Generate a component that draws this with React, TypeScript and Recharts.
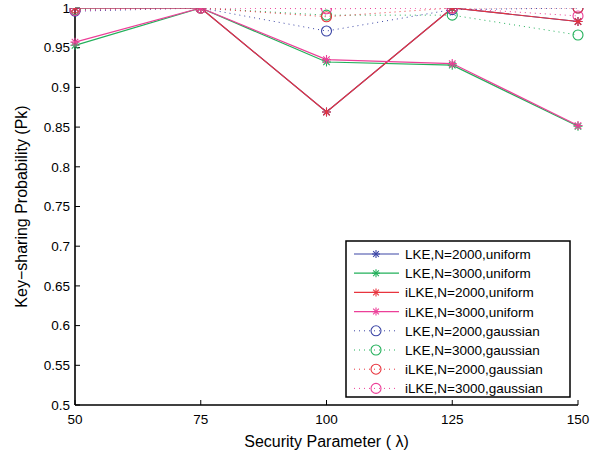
import React from 'react';
import { LineChart, Line, XAxis, YAxis } from 'recharts';

const lambdas = [50, 75, 100, 125, 150];
const yTicks = [0.5, 0.55, 0.6, 0.65, 0.7, 0.75, 0.8, 0.85, 0.9, 0.95, 1];

const lke2000Uniform = [1, 1, 0.869, 1, 0.983];
const lke3000Uniform = [0.953, 1, 0.932, 0.928, 0.851];
const ilke2000Uniform = [1, 1, 0.869, 1, 0.983];
const ilke3000Uniform = [0.957, 1, 0.935, 0.93, 0.852];
const lke2000Gauss = [0.996, 1, 0.971, 0.998, 1];
const lke3000Gauss = [0.998, 1, 0.991, 0.991, 0.966];
const ilke2000Gauss = [1, 1, 0.989, 1, 1];
const ilke3000Gauss = [0.997, 1, 0.999, 1, 0.99];

const BLUE = '#3c46a6';
const GREEN = '#22b05a';
const RED = '#e8343e';
const MAGENTA = '#ec3f98';

const seriesDefs = [
  { key: 'lke2000u', name: 'LKE,N=2000,uniform', color: BLUE, values: lke2000Uniform, kind: 'star' },
  { key: 'lke3000u', name: 'LKE,N=3000,uniform', color: GREEN, values: lke3000Uniform, kind: 'star' },
  { key: 'ilke2000u', name: 'iLKE,N=2000,uniform', color: RED, values: ilke2000Uniform, kind: 'star' },
  { key: 'ilke3000u', name: 'iLKE,N=3000,uniform', color: MAGENTA, values: ilke3000Uniform, kind: 'star' },
  { key: 'lke2000g', name: 'LKE,N=2000,gaussian', color: BLUE, values: lke2000Gauss, kind: 'circle' },
  { key: 'lke3000g', name: 'LKE,N=3000,gaussian', color: GREEN, values: lke3000Gauss, kind: 'circle' },
  { key: 'ilke2000g', name: 'iLKE,N=2000,gaussian', color: RED, values: ilke2000Gauss, kind: 'circle' },
  { key: 'ilke3000g', name: 'iLKE,N=3000,gaussian', color: MAGENTA, values: ilke3000Gauss, kind: 'circle' },
];

const data = lambdas.map((x, i) => {
  const row: any = { x };
  seriesDefs.forEach((s) => (row[s.key] = s.values[i]));
  return row;
});

const FONT = '"Liberation Sans", Arial, sans-serif';

function StarMark({ cx, cy, color, r = 4.5 }: any) {
  const d = r * 0.72;
  return (
    <g stroke={color} strokeWidth={1.1}>
      <line x1={cx - r} y1={cy} x2={cx + r} y2={cy} />
      <line x1={cx} y1={cy - r} x2={cx} y2={cy + r} />
      <line x1={cx - d} y1={cy - d} x2={cx + d} y2={cy + d} />
      <line x1={cx - d} y1={cy + d} x2={cx + d} y2={cy - d} />
    </g>
  );
}

function CircleMark({ cx, cy, color }: any) {
  return <circle cx={cx} cy={cy} r={5} fill="none" stroke={color} strokeWidth={1.1} />;
}

const makeDot = (kind: string, color: string) => (props: any) => {
  const { cx, cy, index } = props;
  if (cx == null || cy == null) return <g key={index} />;
  return kind === 'star' ? (
    <StarMark key={index} cx={cx} cy={cy} color={color} />
  ) : (
    <CircleMark key={index} cx={cx} cy={cy} color={color} />
  );
};

function LegendBox() {
  const rowH = 19.2;
  return (
    <svg width={226} height={158} style={{ display: 'block' }}>
      <rect x={1} y={1} width={224} height={156} fill="#fff" stroke="#000" strokeWidth={1.5} />
      {seriesDefs.map((s, i) => {
        const y = 14 + i * rowH;
        return (
          <g key={s.key}>
            <line
              x1={9}
              x2={54}
              y1={y}
              y2={y}
              stroke={s.color}
              strokeWidth={s.kind === 'star' ? 1.2 : 1}
              strokeDasharray={s.kind === 'star' ? undefined : '1 4'}
            />
            {s.kind === 'star' ? (
              <StarMark cx={31} cy={y} color={s.color} r={4} />
            ) : (
              <CircleMark cx={31} cy={y} color={s.color} />
            )}
            <text x={60} y={y + 5} fontSize={13.5} fontFamily={FONT} fill="#000">
              {s.name}
            </text>
          </g>
        );
      })}
    </svg>
  );
}

const fmtY = (v: number) => String(Math.round(v * 100) / 100);

export default function App() {
  return (
    <div style={{ position: 'absolute', left: 0, top: 0, width: 611, height: 456, background: '#fff' }}>
      <LineChart width={611} height={456} data={data} margin={{ top: 8, right: 33, bottom: 0, left: 0 }}>
        <XAxis
          xAxisId="b"
          dataKey="x"
          type="number"
          domain={[50, 150]}
          ticks={lambdas}
          height={51}
          axisLine={{ stroke: '#000', strokeWidth: 1.6 }}
          tickLine={{ stroke: '#000' }}
          tickSize={-5}
          tickMargin={14}
          tick={{ fill: '#000', fontSize: 13.5, fontFamily: FONT }}
          label={{ value: 'Security Parameter ( λ)', position: 'insideBottom', offset: 9, fill: '#000', fontSize: 16, fontFamily: FONT }}
        />
        <XAxis
          xAxisId="t"
          orientation="top"
          dataKey="x"
          type="number"
          domain={[50, 150]}
          ticks={lambdas}
          height={0}
          axisLine={{ stroke: '#000', strokeWidth: 1.6 }}
          tickLine={{ stroke: '#000' }}
          tickSize={-5}
          tickFormatter={() => ''}
        />
        <YAxis
          yAxisId="l"
          type="number"
          domain={[0.5, 1]}
          ticks={yTicks}
          width={75}
          allowDataOverflow
          axisLine={{ stroke: '#000', strokeWidth: 1.6 }}
          tickLine={{ stroke: '#000' }}
          tickSize={-5}
          tickMargin={10}
          tickFormatter={fmtY}
          tick={{ fill: '#000', fontSize: 13.5, fontFamily: FONT }}
          label={{ value: 'Key−sharing Probability (Pk)', angle: -90, position: 'insideLeft', offset: 21, style: { textAnchor: 'middle' }, fill: '#000', fontSize: 16, fontFamily: FONT }}
        />
        <YAxis
          yAxisId="r"
          orientation="right"
          type="number"
          domain={[0.5, 1]}
          ticks={yTicks}
          width={0}
          axisLine={{ stroke: '#000', strokeWidth: 1.6 }}
          tickLine={{ stroke: '#000' }}
          tickSize={-5}
          tickFormatter={() => ''}
        />
        {[...seriesDefs.slice(4), ...seriesDefs.slice(0, 4)].map((s) => (
          <Line
            key={s.key}
            xAxisId="b"
            yAxisId="l"
            dataKey={s.key}
            name={s.name}
            stroke={s.color}
            strokeWidth={s.kind === 'star' ? 1.2 : 1}
            strokeDasharray={s.kind === 'star' ? undefined : '1 4'}
            dot={makeDot(s.kind, s.color)}
            activeDot={false}
            isAnimationActive={false}
            legendType="none"
          />
        ))}
      </LineChart>
      <div style={{ position: 'absolute', left: 345, top: 240 }}>
        <LegendBox />
      </div>
    </div>
  );
}
